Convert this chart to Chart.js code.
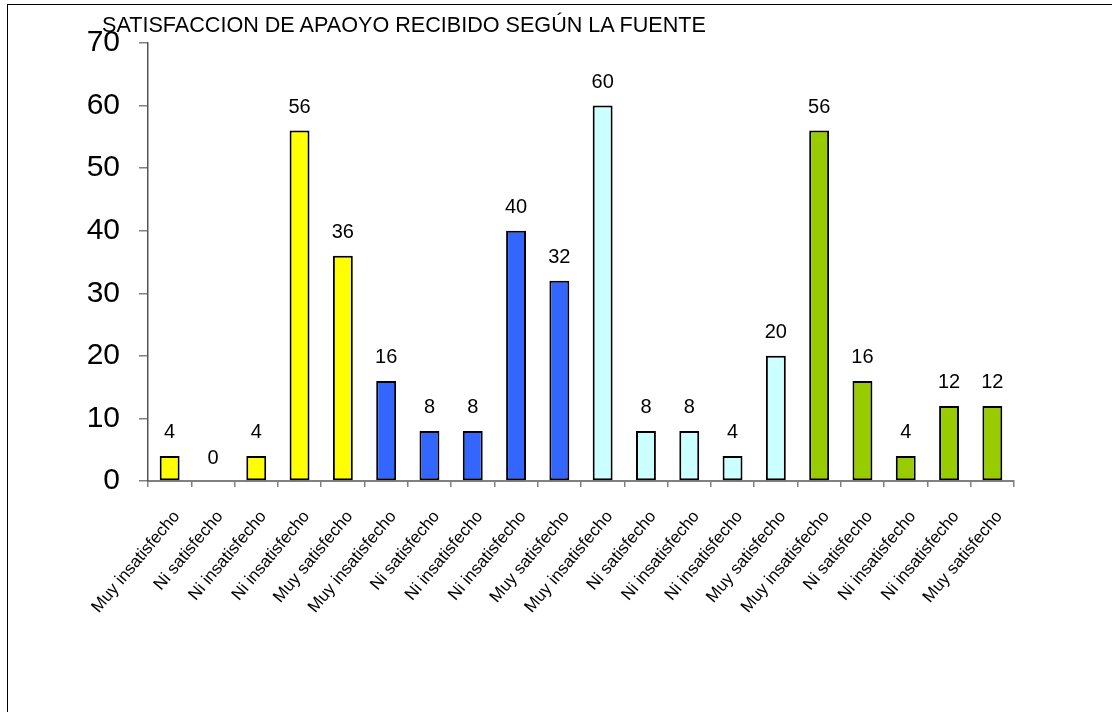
<!DOCTYPE html>
<html lang="es">
<head>
<meta charset="UTF-8">
<title>Satisfaccion de apoyo recibido</title>
<script src="https://cdn.jsdelivr.net/npm/chart.js"></script>
<style>
    html, body { margin: 0; padding: 0; background: #fff; overflow: hidden; }
    #wrap { position: relative; width: 1112px; height: 712px; }
    #frame { position: absolute; left: 7px; top: 4px; width: 1200px; height: 800px; border: 1px solid #000; }
    #title { position: absolute; left: 102px; top: 14px; font: 21.6px/21px "Liberation Sans", Arial, sans-serif; color: #000; white-space: nowrap; }
    canvas { position: absolute; left: 0; top: 0; }
</style>
</head>
<body>
<div id="wrap">
    <div id="frame"></div>
    <canvas id="chart" width="1112" height="712"></canvas>
    <div id="title">SATISFACCION DE APAOYO RECIBIDO SEGÚN LA FUENTE</div>
</div>
<script>
const categories = [
    'Muy insatisfecho', 'Ni satisfecho', 'Ni insatisfecho', 'Ni insatisfecho', 'Muy satisfecho',
    'Muy insatisfecho', 'Ni satisfecho', 'Ni insatisfecho', 'Ni insatisfecho', 'Muy satisfecho',
    'Muy insatisfecho', 'Ni satisfecho', 'Ni insatisfecho', 'Ni insatisfecho', 'Muy satisfecho',
    'Muy insatisfecho', 'Ni satisfecho', 'Ni insatisfecho', 'Ni insatisfecho', 'Muy satisfecho'
];
const values = [4, 0, 4, 56, 36, 16, 8, 8, 40, 32, 60, 8, 8, 4, 20, 56, 16, 4, 12, 12];
const groupColors = ['#ffff00', '#3366ff', '#ccffff', '#99cc00'];
const barColors = categories.map((c, i) => groupColors[Math.floor(i / 5)]);
const yTicks = [0, 10, 20, 30, 40, 50, 60, 70];

const fontFamily = '"Liberation Sans", Arial, sans-serif';

// value labels above each bar
const valueLabels = {
    id: 'valueLabels',
    afterDatasetsDraw(chart) {
        const ctx = chart.ctx;
        const meta = chart.getDatasetMeta(0);
        ctx.save();
        ctx.font = '20px ' + fontFamily;
        ctx.fillStyle = '#000';
        ctx.textAlign = 'center';
        ctx.textBaseline = 'middle';
        meta.data.forEach((bar, i) => {
            ctx.fillText(String(values[i]), bar.x, bar.y - 23);
        });
        ctx.restore();
    }
};

new Chart(document.getElementById('chart'), {
    type: 'bar',
    data: {
        labels: categories,
        datasets: [{
            data: values,
            backgroundColor: barColors,
            borderColor: '#000',
            borderWidth: 2,
            borderSkipped: false,
            barPercentage: 0.46,
            categoryPercentage: 1
        }]
    },
    options: {
        responsive: false,
        animation: false,
        layout: { padding: { left: 0, top: 43, right: 98, bottom: 0 } },
        plugins: {
            legend: { display: false },
            tooltip: { enabled: false },
            title: { display: false }
        },
        scales: {
            x: {
                grid: { display: true, drawOnChartArea: false, drawTicks: true, tickLength: 6, color: '#808080', lineWidth: 1.5, offset: true },
                border: { display: true, color: '#808080', width: 2 },
                ticks: {
                    color: '#000',
                    font: { size: 17, family: fontFamily },
                    minRotation: 50,
                    maxRotation: 50,
                    padding: 20,
                    labelOffset: 7,
                    autoSkip: false
                },
                afterFit(scale) { scale.height = 231; }
            },
            y: {
                min: 0,
                max: 70,
                afterBuildTicks(scale) { scale.ticks = yTicks.map(v => ({ value: v })); },
                grid: { display: true, drawOnChartArea: false, drawTicks: true, tickLength: 9, color: '#808080', lineWidth: 1.5 },
                border: { display: true, color: '#555', width: 1.5 },
                ticks: {
                    color: '#000',
                    font: { size: 30, family: fontFamily },
                    padding: 19
                },
                afterFit(scale) { scale.width = 148; }
            }
        }
    },
    plugins: [valueLabels]
});
</script>
</body>
</html>
